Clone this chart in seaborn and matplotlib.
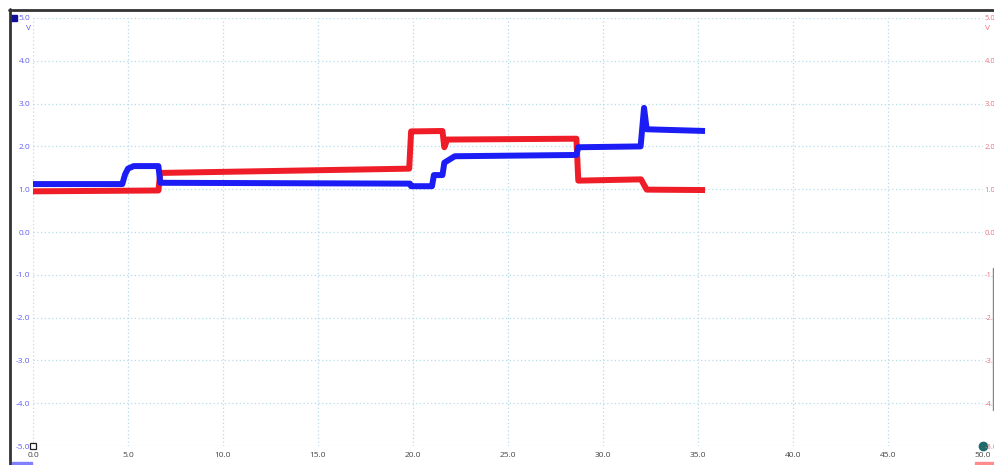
import matplotlib
matplotlib.use("Agg")
import matplotlib.pyplot as plt
import seaborn as sns
import pandas as pd
from matplotlib.patches import Rectangle
from matplotlib.lines import Line2D

blue_t = [0.0, 4.7, 4.85, 5.0, 5.3, 6.6, 6.7, 19.84, 19.9, 21.0, 21.1, 21.55, 21.65, 22.2, 28.6, 28.7, 31.98, 32.16, 32.3, 35.37]
blue_v = [1.12, 1.12, 1.35, 1.48, 1.54, 1.54, 1.15, 1.13, 1.07, 1.07, 1.33, 1.33, 1.62, 1.77, 1.80, 1.98, 2.00, 2.90, 2.40, 2.36]
red_t = [0.0, 6.6, 6.7, 19.8, 19.9, 21.55, 21.65, 21.8, 28.6, 28.7, 32.0, 32.3, 35.37]
red_v = [0.95, 0.97, 1.38, 1.48, 2.35, 2.36, 1.98, 2.16, 2.18, 1.20, 1.23, 0.99, 0.98]

x_ticks = [0, 5, 10, 15, 20, 25, 30, 35, 40, 45, 50]
y_ticks = [-5, -4, -3, -2, -1, 0, 1, 2, 3, 4, 5]

BLUE = "#1c1cf5"
RED = "#ee1d27"
GRID = "#b5dcea"

sns.set_style("white")
plt.rcParams['font.family'] = ['Open Sans', 'DejaVu Sans']

fig = plt.figure(figsize=(9.95, 4.65), dpi=100)
W, H = 995, 465
ax = fig.add_axes([33 / W, 19 / H, 950 / W, 428 / H])

red_df = pd.DataFrame({'t': red_t, 'v': red_v})
blue_df = pd.DataFrame({'t': blue_t, 'v': blue_v})
sns.lineplot(red_df, x='t', y='v', ax=ax, color=RED, lw=4.3, sort=False, estimator=None,
             solid_capstyle='butt')
sns.lineplot(blue_df, x='t', y='v', ax=ax, color=BLUE, lw=4.3, sort=False, estimator=None,
             solid_capstyle='butt')

ax.set_xlim(0, 50)
ax.set_ylim(-5, 5)
ax.set_xticks(x_ticks)
ax.set_xticklabels([f"{t:.1f}" for t in x_ticks], color="#444444", fontsize=6)
ax.set_yticks(y_ticks)
ax.set_yticklabels([f"{v:.1f}" for v in y_ticks], color="#6060f0", fontsize=6)
ax.tick_params(length=0, pad=2)
ax.tick_params(axis='x', pad=4)
ax.set(xlabel='', ylabel='')
ax.grid(True, color=GRID, linestyle=(0, (1, 2)), lw=0.9)
ax.set_axisbelow(True)
for s in ax.spines.values():
    s.set_visible(False)

# trigger marker and ruler handle sit on the axis corners
ax.plot([0], [-5], marker='s', ms=5, mfc='white', mec='#222222', mew=0.9, clip_on=False, zorder=5)
ax.plot([50], [-5], marker='o', ms=6, color='#1f6b6b', clip_on=False, zorder=5)

ax2 = ax.twinx()
ax2.set_ylim(-5, 5)
ax2.set_yticks(y_ticks)
ax2.set_yticklabels([f"{v:.1f}" for v in y_ticks], color="#f07080", fontsize=5.5)
ax2.tick_params(length=0, pad=1)
for s in ax2.spines.values():
    s.set_visible(False)

# units
fig.text(29 / W, 1 - 28 / H, "V", color="#6060f0", fontsize=6, ha='center', va='center')
fig.text(988 / W, 1 - 28 / H, "V", color="#f07080", fontsize=6, ha='center', va='center')

# window frame
fig.add_artist(Line2D([10 / W, 10 / W], [0, 1 - 9 / H], color="#333333", lw=2))
fig.add_artist(Line2D([9 / W, 1], [1 - 10 / H, 1 - 10 / H], color="#333333", lw=2))
fig.add_artist(Line2D([993 / W, 993 / W], [1 - 268 / H, 1 - 410 / H], color="#888888", lw=1))

# channel marker and bottom handles
fig.add_artist(Rectangle((11 / W, 1 - 21 / H), 6 / W, 6 / H, color="#10109a"))
fig.add_artist(Rectangle((12 / W, 0), 20 / W, 3 / H, color="#8080ff"))
fig.add_artist(Rectangle((975 / W, 0), 20 / W, 3 / H, color="#ff8c8c"))

fig.savefig("out.png", dpi=100)
